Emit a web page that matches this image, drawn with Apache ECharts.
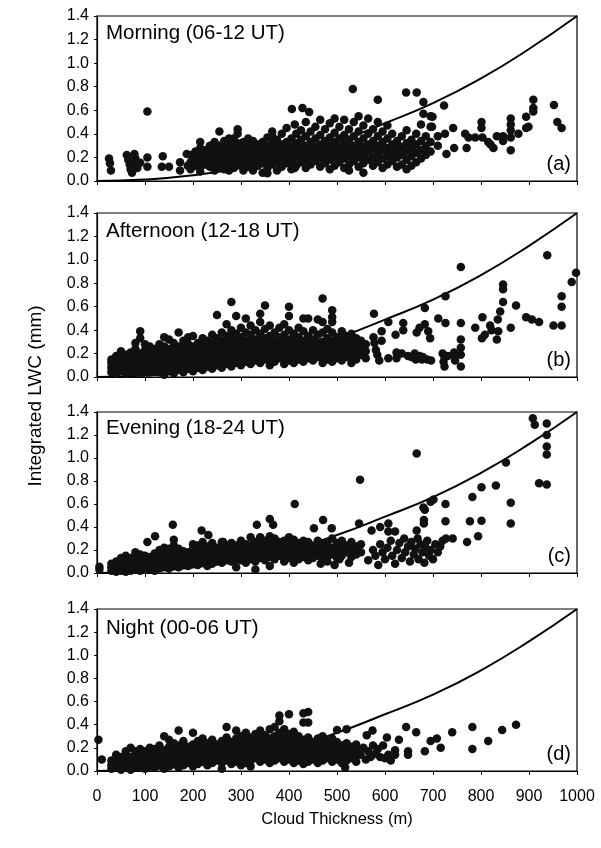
<!DOCTYPE html>
<html>
<head>
<meta charset="utf-8">
<script src="https://cdn.jsdelivr.net/npm/echarts@6/dist/echarts.min.js"></script>
<style>
html,body{margin:0;padding:0;background:#fff;}
#chart{width:601px;height:848px;}
</style>
</head>
<body>
<div id="chart"></div>
<script>
// ---------------- DATA ----------------
const xTicks = [0,100,200,300,400,500,600,700,800,900,1000];
const yTicks = [0.0,0.2,0.4,0.6,0.8,1.0,1.2,1.4];
const panelTitles = ['Morning (06-12 UT)','Afternoon (12-18 UT)','Evening (18-24 UT)','Night (00-06 UT)'];
const panelTags = ['(a)','(b)','(c)','(d)'];

// adiabatic curve: [thickness m, LWC mm]
const curvePts = [[0,0],[100,0.012],[200,0.048],[300,0.11],[400,0.2],[500,0.33],[600,0.49],[700,0.66],[800,0.87],[900,1.12],[1000,1.4]];

// dense clusters as columns: [thickness, [LWC values]]
const morningDense = [
[195,[0.10,0.16,0.22]],[205,[0.13,0.19,0.25]],[215,[0.08,0.11,0.17,0.23,0.28,0.33]],[225,[0.14,0.20,0.26]],
[235,[0.12,0.18,0.24,0.30]],[245,[0.09,0.15,0.21,0.27,0.33]],[255,[0.12,0.18,0.24,0.30,0.42]],[265,[0.10,0.16,0.22,0.28,0.34]],
[275,[0.09,0.13,0.19,0.25,0.31,0.36]],[285,[0.11,0.17,0.23,0.29,0.36]],[293,[0.14,0.20,0.26,0.32,0.40,0.44]],[305,[0.09,0.15,0.21,0.27,0.33]],
[315,[0.12,0.18,0.24,0.30,0.36]],[325,[0.09,0.16,0.22,0.28,0.34]],[335,[0.13,0.19,0.25,0.31]],[345,[0.07,0.15,0.21,0.27,0.33]],
[355,[0.065,0.11,0.18,0.24,0.30,0.37]],[365,[0.14,0.20,0.26,0.32,0.38,0.42]],[375,[0.09,0.16,0.22,0.28,0.35]],[385,[0.12,0.19,0.25,0.31,0.40]],
[395,[0.15,0.21,0.27,0.33,0.45]],[405,[0.10,0.17,0.23,0.29,0.36]],[412,[0.11,0.48]],[415,[0.13,0.20,0.26,0.32,0.40]],[425,[0.16,0.22,0.28,0.35,0.43]],
[435,[0.11,0.18,0.24,0.30,0.38,0.50]],[445,[0.14,0.21,0.27,0.33,0.42]],[455,[0.17,0.23,0.29,0.36,0.46]],[465,[0.12,0.19,0.25,0.31,0.39,0.52]],
[475,[0.15,0.22,0.28,0.34,0.44]],[485,[0.10,0.18,0.24,0.30,0.37,0.49]],[495,[0.13,0.20,0.26,0.33,0.41,0.53]],[505,[0.16,0.23,0.29,0.36,0.46]],
[515,[0.11,0.19,0.25,0.31,0.39,0.52]],[525,[0.09,0.14,0.21,0.28,0.35,0.44]],[535,[0.17,0.24,0.30,0.38,0.50]],[545,[0.12,0.20,0.26,0.33,0.42,0.55]],
[555,[0.07,0.15,0.22,0.29,0.36,0.47]],[565,[0.18,0.25,0.31,0.40,0.53]],[575,[0.13,0.20,0.27,0.34,0.44]],[585,[0.16,0.23,0.30,0.38,0.50]],
[595,[0.11,0.19,0.26,0.33,0.42]],[605,[0.14,0.21,0.28,0.36,0.47]],[615,[0.17,0.24,0.31,0.40]],[625,[0.12,0.20,0.27,0.34]],
[635,[0.14,0.22,0.29,0.38]],[645,[0.10,0.18,0.25,0.32,0.43]],[655,[0.13,0.21,0.28,0.35]],[665,[0.16,0.24,0.31,0.40]],
[675,[0.19,0.26,0.34,0.48]],[685,[0.22,0.30,0.38]],[695,[0.25,0.33,0.46,0.55]],[710,[0.30,0.38]]
];
const morningSparse = [
[25,0.19],[27,0.15],[29,0.09],[62,0.22],[65,0.18],[68,0.14],[70,0.10],[73,0.07],[78,0.23],[80,0.19],[82,0.15],[84,0.11],
[90,0.155],[105,0.59],[105,0.20],[105,0.12],[137,0.21],[135,0.12],[150,0.12],[173,0.16],[173,0.09],[187,0.23],[189,0.13],
[406,0.61],[428,0.62],[442,0.585],[533,0.78],[585,0.69],[644,0.75],[666,0.75],[680,0.67],[723,0.64],[699,0.545],[698,0.46],[690,0.25],[680,0.57],
[742,0.45],[725,0.40],[728,0.23],[744,0.28],[767,0.40],[774,0.37],[770,0.28],[788,0.37],[803,0.37],[801,0.45],[801,0.50],
[815,0.33],[820,0.31],[826,0.28],[833,0.38],[846,0.38],[846,0.34],[862,0.26],[862,0.53],[862,0.48],[862,0.43],[862,0.37],
[878,0.40],[894,0.545],[894,0.45],[899,0.46],[909,0.69],[909,0.62],[909,0.59],[952,0.645],[959,0.50],[968,0.45]
];

const afternoonDense = [
[30,[0.04,0.08,0.12,0.15]],[40,[0.03,0.06,0.10,0.14,0.18]],[50,[0.05,0.09,0.13,0.17,0.22]],[60,[0.03,0.07,0.11,0.15,0.19]],
[70,[0.04,0.08,0.12,0.16,0.21]],[80,[0.05,0.10,0.14,0.18,0.24,0.29]],[90,[0.03,0.07,0.11,0.16,0.20,0.33,0.39]],[100,[0.05,0.09,0.13,0.18,0.23,0.28]],
[110,[0.04,0.08,0.12,0.17,0.21,0.26]],[120,[0.06,0.10,0.15,0.19,0.24]],[130,[0.04,0.09,0.13,0.18,0.22,0.28]],[140,[0.02,0.07,0.11,0.16,0.20,0.26,0.34]],
[150,[0.05,0.10,0.14,0.19,0.24,0.32]],[160,[0.03,0.08,0.12,0.17,0.22,0.29]],[170,[0.06,0.11,0.15,0.20,0.26,0.38]],[180,[0.04,0.09,0.14,0.19,0.24,0.31]],
[190,[0.07,0.12,0.17,0.22,0.28,0.34]],[200,[0.05,0.10,0.15,0.20,0.26,0.35]],[210,[0.08,0.13,0.18,0.23,0.29]],[220,[0.06,0.11,0.16,0.21,0.27,0.33]],
[230,[0.09,0.14,0.19,0.25,0.31]],[240,[0.07,0.12,0.17,0.23,0.29,0.36]],[250,[0.10,0.15,0.21,0.27,0.33,0.53]],[260,[0.08,0.13,0.19,0.25,0.31,0.38]],
[270,[0.11,0.17,0.23,0.29,0.35,0.45]],[280,[0.09,0.15,0.21,0.27,0.33,0.40,0.64]],[290,[0.12,0.18,0.24,0.30,0.37,0.52]],[300,[0.10,0.16,0.22,0.28,0.34,0.42]],
[310,[0.13,0.19,0.25,0.31,0.38,0.50]],[320,[0.11,0.17,0.23,0.29,0.36,0.44]],[330,[0.14,0.20,0.26,0.32,0.40]],[340,[0.12,0.18,0.24,0.30,0.37,0.47,0.54]],
[350,[0.15,0.21,0.27,0.33,0.41,0.61]],[360,[0.10,0.16,0.22,0.28,0.35,0.44]],[370,[0.13,0.19,0.25,0.31,0.38]],[380,[0.16,0.22,0.28,0.34,0.42]],
[390,[0.11,0.17,0.23,0.29,0.36,0.45]],[400,[0.14,0.20,0.26,0.32,0.40,0.52,0.60]],[410,[0.12,0.18,0.24,0.30,0.37]],[420,[0.15,0.21,0.27,0.34,0.42]],
[430,[0.13,0.19,0.25,0.31,0.39,0.50]],[440,[0.16,0.22,0.28,0.35,0.50]],[450,[0.14,0.20,0.26,0.32,0.40]],[460,[0.17,0.23,0.29,0.36,0.49]],
[470,[0.12,0.18,0.24,0.30,0.38,0.47,0.67]],[480,[0.15,0.21,0.27,0.33,0.41]],[490,[0.13,0.19,0.25,0.31,0.38,0.47,0.51,0.57]],[500,[0.16,0.22,0.28,0.34]],
[510,[0.14,0.20,0.26,0.32,0.39]],[520,[0.17,0.23,0.29,0.35]],[530,[0.12,0.18,0.24,0.30,0.37]],[540,[0.15,0.21,0.27,0.33]],
[550,[0.19,0.25,0.31]],[560,[0.16,0.22,0.28]]
];
const afternoonSparse = [
[577,0.54],[576,0.34],[578,0.29],[581,0.23],[584,0.19],[588,0.14],[593,0.39],[593,0.31],[607,0.47],[607,0.16],[622,0.36],[624,0.21],[624,0.16],
[638,0.46],[638,0.40],[635,0.20],[648,0.18],[655,0.17],[662,0.20],[664,0.15],[672,0.18],[677,0.15],[679,0.17],[688,0.15],[696,0.14],
[666,0.38],[672,0.42],[683,0.45],[683,0.59],[690,0.39],[694,0.33],[711,0.50],[726,0.46],[726,0.69],[720,0.20],[724,0.17],[731,0.18],
[722,0.13],[724,0.09],[745,0.18],[746,0.14],[744,0.21],[758,0.94],[758,0.46],[758,0.32],[758,0.25],[758,0.19],[758,0.09],
[788,0.42],[803,0.51],[802,0.33],[808,0.36],[819,0.44],[822,0.40],[833,0.32],[835,0.49],[840,0.56],[836,0.39],[846,0.79],[846,0.75],[846,0.64],
[862,0.42],[873,0.61],[894,0.51],[906,0.49],[921,0.47],[938,1.04],[951,0.44],[968,0.44],[968,0.69],[968,0.60],[989,0.81],[998,0.89]
];

const eveningDense = [
[30,[0.02,0.05,0.08]],[40,[0.01,0.04,0.07,0.10]],[50,[0.02,0.05,0.09,0.13]],[60,[0.01,0.04,0.07,0.11,0.15]],
[70,[0.02,0.06,0.09,0.13]],[80,[0.03,0.07,0.11,0.15,0.18]],[90,[0.02,0.05,0.09,0.13,0.16]],[100,[0.04,0.08,0.12,0.15]],
[110,[0.03,0.06,0.10,0.14]],[120,[0.02,0.05,0.09,0.13,0.17]],[130,[0.04,0.08,0.11,0.15,0.20]],[140,[0.06,0.10,0.14,0.18,0.22]],
[150,[0.04,0.08,0.12,0.16,0.21]],[160,[0.06,0.10,0.14,0.19,0.24,0.29]],[170,[0.05,0.09,0.13,0.17,0.21]],[180,[0.07,0.11,0.15,0.19]],
[190,[0.06,0.10,0.14,0.18]],[200,[0.08,0.12,0.16,0.21,0.25]],[210,[0.07,0.11,0.15,0.19,0.24]],[220,[0.09,0.13,0.17,0.22,0.27]],
[230,[0.06,0.10,0.14,0.18,0.23]],[240,[0.08,0.12,0.16,0.20,0.26]],[250,[0.10,0.14,0.18,0.22]],[260,[0.09,0.13,0.17,0.21,0.27]],
[270,[0.11,0.15,0.19,0.23]],[280,[0.10,0.14,0.18,0.22,0.26]],[290,[0.05,0.12,0.16,0.20,0.24]],[300,[0.11,0.15,0.19,0.23,0.28]],
[310,[0.09,0.13,0.17,0.21,0.25]],[320,[0.12,0.16,0.20,0.24,0.31]],[330,[0.03,0.10,0.14,0.18,0.22,0.27]],[340,[0.13,0.17,0.21,0.25,0.31]],
[350,[0.11,0.15,0.19,0.23,0.28]],[360,[0.06,0.14,0.18,0.22,0.26,0.32]],[370,[0.12,0.16,0.20,0.24,0.30]],[380,[0.15,0.19,0.23,0.27]],
[390,[0.10,0.14,0.18,0.22,0.28]],[400,[0.13,0.17,0.21,0.26,0.31]],[410,[0.09,0.15,0.19,0.24,0.29]],[420,[0.12,0.16,0.21,0.26]],
[430,[0.14,0.18,0.23,0.28]],[440,[0.11,0.16,0.21,0.27]],[450,[0.13,0.18,0.24]],[460,[0.15,0.21,0.28]],
[470,[0.12,0.18,0.25]],[480,[0.14,0.20,0.27]],[490,[0.16,0.22,0.30]],[500,[0.13,0.19,0.26]],
[510,[0.15,0.21,0.28]],[520,[0.18,0.24]],[530,[0.14,0.20,0.27]],[540,[0.16,0.23]],[550,[0.18,0.25]]
];
const eveningSparse = [
[5,0.055],[5,0.03],[105,0.27],[121,0.32],[158,0.42],[218,0.37],[232,0.33],[263,0.27],[333,0.42],[360,0.47],[367,0.42],[412,0.60],
[452,0.39],[471,0.46],[489,0.39],[548,0.81],[466,0.08],[480,0.10],[495,0.07],[505,0.12],[525,0.09],[546,0.43],[565,0.11],[572,0.37],
[586,0.07],[590,0.40],[607,0.43],[607,0.36],[621,0.36],[621,0.08],
[575,0.20],[580,0.15],[590,0.25],[595,0.18],[600,0.12],[605,0.22],[612,0.28],[615,0.15],[625,0.20],[630,0.26],[635,0.13],[640,0.30],
[642,0.18],[648,0.23],[652,0.10],[655,0.27],[660,0.16],[663,0.21],[668,0.30],[670,0.12],[674,0.25],[678,0.18],[682,0.09],[685,0.22],
[688,0.28],[692,0.15],[695,0.20],[700,0.12],[705,0.25],[710,0.18],[715,0.23],[720,0.28],[727,0.30],
[666,1.04],[666,0.37],[680,0.57],[683,0.55],[681,0.46],[681,0.43],[695,0.62],[701,0.64],[726,0.60],[726,0.45],[741,0.30],[771,0.27],
[777,0.45],[782,0.66],[794,0.32],[801,0.745],[801,0.455],[831,0.76],[852,0.96],[862,0.61],[862,0.43],[908,1.345],[912,1.29],
[921,0.78],[937,1.30],[937,1.20],[937,1.10],[937,1.03],[937,0.77]
];

const nightDense = [
[30,[0.02,0.05,0.09]],[40,[0.03,0.07,0.11,0.14]],[50,[0.01,0.05,0.08,0.12]],[60,[0.03,0.06,0.10,0.14,0.17]],
[70,[0.01,0.04,0.08,0.12,0.20]],[80,[0.03,0.06,0.10,0.14,0.17]],[90,[0.05,0.09,0.13,0.19]],[100,[0.02,0.06,0.10,0.14,0.17]],
[110,[0.04,0.08,0.12,0.16,0.20]],[120,[0.03,0.07,0.11,0.15,0.19]],[130,[0.05,0.09,0.13,0.17,0.22]],[140,[0.02,0.06,0.10,0.14,0.18,0.30]],
[150,[0.04,0.08,0.12,0.16,0.21,0.27]],[160,[0.06,0.10,0.14,0.19,0.24]],[170,[0.03,0.08,0.12,0.17,0.22,0.35]],[180,[0.05,0.10,0.14,0.19,0.26]],
[190,[0.07,0.11,0.16,0.21]],[200,[0.04,0.09,0.13,0.18,0.23,0.33]],[210,[0.06,0.11,0.15,0.20,0.26]],[220,[0.08,0.13,0.17,0.22,0.28]],
[230,[0.05,0.10,0.15,0.19,0.24]],[240,[0.07,0.12,0.17,0.21,0.27]],[250,[0.09,0.14,0.19,0.23]],[260,[0.02,0.07,0.12,0.16,0.21,0.26]],
[270,[0.09,0.14,0.18,0.23,0.29,0.38]],[280,[0.06,0.11,0.16,0.20,0.25]],[290,[0.08,0.13,0.18,0.22,0.28,0.35]],[300,[0.05,0.10,0.15,0.20,0.24,0.30]],
[310,[0.07,0.12,0.17,0.22,0.27,0.33]],[320,[0.04,0.09,0.14,0.19,0.24,0.29]],[330,[0.11,0.16,0.21,0.26,0.32]],[340,[0.08,0.13,0.18,0.23,0.28,0.35]],
[350,[0.10,0.15,0.20,0.25,0.31]],[360,[0.07,0.12,0.17,0.22,0.28,0.36]],[370,[0.09,0.14,0.19,0.24,0.30,0.38]],[380,[0.11,0.16,0.21,0.27,0.33,0.43,0.48]],
[390,[0.08,0.13,0.18,0.23,0.29,0.36]],[400,[0.10,0.15,0.20,0.26,0.32,0.49]],[410,[0.07,0.12,0.17,0.22,0.28,0.34]],[420,[0.09,0.14,0.19,0.24,0.30]],
[430,[0.06,0.11,0.16,0.21,0.27,0.42,0.50]],[440,[0.08,0.13,0.18,0.23,0.29,0.42,0.51]],[450,[0.10,0.15,0.20,0.25]],[460,[0.07,0.12,0.17,0.22,0.28]],
[470,[0.09,0.14,0.19,0.24,0.30]],[480,[0.11,0.16,0.21,0.26]],[490,[0.08,0.13,0.18,0.23,0.28]],[500,[0.10,0.15,0.20,0.25,0.355]],
[510,[0.07,0.12,0.17,0.22]],[517,[0.03]],[520,[0.09,0.14,0.19,0.24,0.36]],[530,[0.11,0.16,0.21]],[540,[0.08,0.13,0.18,0.23]]
];
const nightSparse = [
[3,0.27],[10,0.10],[549,0.14],[555,0.20],[562,0.31],[560,0.10],[565,0.17],[570,0.12],[574,0.35],[575,0.22],[580,0.15],[585,0.19],
[590,0.12],[596,0.22],[600,0.11],[604,0.29],[607,0.14],[612,0.09],[621,0.18],[621,0.14],[629,0.27],[644,0.38],[648,0.17],[648,0.14],
[665,0.335],[683,0.17],[695,0.26],[708,0.28],[716,0.20],[740,0.335],[782,0.38],[782,0.19],[815,0.26],[844,0.355],[873,0.40]
];

// ---------------- LAYOUT ----------------
const plotTops = [16, 213, 412, 609];
const plotHeights = [165, 164, 161, 162];
const titleYs = [34, 231.5, 429, 629];
const FONT = '"Liberation Sans", Arial, sans-serif';

function flatten(cols){ const out=[]; cols.forEach(c=>c[1].forEach(v=>out.push([c[0],v]))); return out; }
const panelData = [
  flatten(morningDense).concat(morningSparse),
  flatten(afternoonDense).concat(afternoonSparse),
  flatten(eveningDense).concat(eveningSparse),
  flatten(nightDense).concat(nightSparse)
];

const grids=[], xAxes=[], yAxes=[], series=[], graphics=[];
for(let i=0;i<4;i++){
  grids.push({left:97,right:24,top:plotTops[i],height:plotHeights[i],show:true,borderColor:'#000',borderWidth:1.2,backgroundColor:'transparent',containLabel:false});
  xAxes.push({type:'value',gridIndex:i,min:xTicks[0],max:xTicks[xTicks.length-1],interval:100,
    axisLine:{show:true,onZero:false,lineStyle:{color:'#000',width:1.2}},
    axisTick:{show:true,inside:false,length:4,lineStyle:{color:'#000'}},
    axisLabel:{show:i===3,fontSize:16,color:'#000',margin:18,fontFamily:FONT,formatter:v=>String(v)},
    splitLine:{show:false},
    name:i===3?'Cloud Thickness (m)':'',nameLocation:'middle',nameGap:40,
    nameTextStyle:{fontSize:16.5,color:'#000',fontFamily:FONT}});
  yAxes.push({type:'value',gridIndex:i,min:yTicks[0],max:yTicks[yTicks.length-1],interval:0.2,
    axisLine:{show:true,onZero:false,lineStyle:{color:'#000',width:1.2}},
    axisTick:{show:true,inside:false,length:3,lineStyle:{color:'#000'}},
    axisLabel:{fontSize:16,color:'#000',margin:8,fontFamily:FONT,formatter:v=>v.toFixed(1)},
    splitLine:{show:false}});
  series.push({type:'line',xAxisIndex:i,yAxisIndex:i,data:curvePts,smooth:true,showSymbol:false,
    lineStyle:{color:'#000',width:2},z:2,silent:true});
  series.push({type:'scatter',xAxisIndex:i,yAxisIndex:i,data:panelData[i],symbol:'circle',symbolSize:8.5,
    itemStyle:{color:'#111',opacity:1},z:3,silent:true});
  graphics.push({type:'text',left:106,top:titleYs[i]-11,style:{text:panelTitles[i],font:'20.5px '+FONT,fill:'#000'}});
  graphics.push({type:'text',right:30,top:plotTops[i]+plotHeights[i]-27,style:{text:panelTags[i],font:'20px '+FONT,fill:'#000'}});
}
graphics.push({type:'text',x:36,y:396,rotation:Math.PI/2,
  style:{text:'Integrated LWC (mm)',font:'19px '+FONT,fill:'#000',align:'center',verticalAlign:'middle'}});

const chart = echarts.init(document.getElementById('chart'),null,{renderer:'canvas'});
chart.setOption({
  animation:false,
  backgroundColor:'#fff',
  grid:grids, xAxis:xAxes, yAxis:yAxes, series:series, graphic:graphics
});
</script>
</body>
</html>
